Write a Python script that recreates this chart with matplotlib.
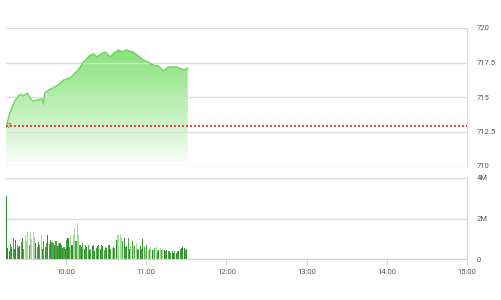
import matplotlib.pyplot as plt
import numpy as np
from matplotlib.patches import Polygon

plt.rcParams['font.family'] = ['Roboto', 'DejaVu Sans']

# gia chi so (phien sang)
gio_gia = ["09:15", "09:18", "09:22", "09:25", "09:26", "09:28", "09:31", "09:33",
           "09:35", "09:38", "09:42", "09:43", "09:44", "09:47", "09:50", "09:54",
           "09:58", "10:03", "10:06", "10:09", "10:13", "10:16", "10:18", "10:21",
           "10:23", "10:26", "10:29", "10:31", "10:33", "10:36", "10:39", "10:42",
           "10:45", "10:50", "10:55", "10:58", "11:01", "11:05", "11:09", "11:13",
           "11:16", "11:19", "11:23", "11:28", "11:31"]
gia = [712.8, 713.9, 714.78, 715.14, 715.2, 715.07, 715.29, 714.93,
       714.71, 714.78, 714.86, 714.49, 715.29, 715.51, 715.65, 715.87,
       716.23, 716.38, 716.67, 716.96, 717.54, 717.83, 718.04, 718.12,
       717.90, 718.12, 718.26, 718.12, 717.90, 718.19, 718.41, 718.26,
       718.41, 718.26, 717.90, 717.68, 717.54, 717.32, 717.25, 716.88,
       717.17, 717.17, 717.17, 716.96, 717.10]
tham_chieu = 712.87

# khoi luong theo phut tu 09:15 (trieu)
kl = [3.1, 0.55, 0.4, 0.75, 0.6, 1.05, 0.5, 0.95, 0.7, 0.6,
      0.65, 0.85, 1.05, 0.5, 1.2, 0.9, 1.35, 0.7, 1.35, 1.0,
      1.35, 1.1, 0.8, 0.6, 0.85, 0.7, 1.2, 0.5, 0.9, 0.6,
      0.8, 1.2, 0.75, 0.95, 0.85, 0.8, 0.7, 0.9, 0.65, 0.75,
      0.8, 0.7, 0.55, 0.6, 0.5, 0.95, 1.05, 0.6, 1.2, 0.7,
      1.2, 1.55, 0.9, 1.8, 1.2, 0.71, 0.6, 0.79, 0.5, 0.71,
      0.6, 0.71, 0.45, 0.5, 0.62, 0.7, 0.4, 0.54, 0.65, 0.71,
      0.5, 0.71, 0.62, 0.46, 0.6, 0.54, 0.7, 0.71, 0.5, 0.54,
      0.6, 0.54, 0.96, 1.2, 1.2, 1.2, 1.05, 0.9, 1.04, 0.6,
      0.62, 1.04, 0.5, 0.62, 0.87, 0.7, 0.62, 0.8, 0.5, 0.46,
      0.62, 0.5, 1.0, 0.6, 0.54, 0.7, 0.46, 0.5, 0.6, 0.46,
      0.46, 0.55, 0.62, 0.4, 0.46, 0.55, 0.46, 0.5, 0.46, 0.38,
      0.46, 0.4, 0.38, 0.3, 0.38, 0.3, 0.38, 0.3, 0.4, 0.38,
      0.5, 0.55, 0.6, 0.54, 0.46, 0.5]
mau_kl = ("dddmdmddmd" "dmdmlllmll" "lldmdmldmd" "mdmdmmdmdm"
          "dmdmdmdmld" "llmllmdmdm" "dmdmdmdmdm" "dmdmmdmdml"
          "dmdllllmdm" "dmdlmlmldm" "dmdmlmlmld" "lmlmdlmldm"
          "dmdmddmdmd" "mdddmd")
bang_mau = {'d': '#2f8f2f', 'm': '#4fa846', 'l': '#a9d89c'}

nhan_gio = ["10:00", "11:00", "12:00", "13:00", "14:00", "15:00"]


def sang_gio(s):
    h, m = s.split(':')
    return int(h) + int(m) / 60


x_gia = np.array([sang_gio(s) for s in gio_gia])
x_kl = 9.25 + np.arange(len(kl)) / 60
x_tick = [sang_gio(s) for s in nhan_gio]

fig = plt.figure(figsize=(5.01, 3.0), dpi=100)
ax1 = fig.add_axes([6/501, 1-166/300, 461/501, 138/300])
ax2 = fig.add_axes([6/501, 1-259/300, 461/501, 81/300])

luoi = '#dcdcdc'
chu = '#555555'
vien = '#cdd8e0'

# ---- gia
ax1.set_xlim(9.25, 15.0)
ax1.set_ylim(710, 720)

# gradient to duoi duong gia
ymax = max(gia)
grad = np.zeros((200, 2, 4))
t = np.linspace(1, 0, 200)[:, None] ** 0.9
grad[..., 0] = 1 - (1 - 0.53) * t
grad[..., 1] = 1 - (1 - 0.89) * t
grad[..., 2] = 1 - (1 - 0.48) * t
grad[..., 3] = 1
im = ax1.imshow(grad, extent=[x_gia[0], x_gia[-1], 710, ymax], aspect='auto',
                origin='upper', zorder=1)
poly = Polygon(np.vstack([np.column_stack([x_gia, gia]),
                          [[x_gia[-1], 710], [x_gia[0], 710]]]),
               closed=True, facecolor='none', edgecolor='none')
ax1.add_patch(poly)
im.set_clip_path(poly)
ax1.plot(x_gia, gia, color='#6fd460', lw=1, zorder=3)

ax1.axhline(tham_chieu, color='#e0282a', ls=(0, (1.2, 1.2)), lw=1.2, zorder=4)
ax1.text(9.253, tham_chieu, '7', color='#e0282a', fontsize=5.5, ha='left', va='center',
         zorder=5)

ax1.set_yticks([710, 712.5, 715, 717.5, 720])
ax1.set_yticklabels(['710', '712.5', '715', '717.5', '720'])
ax1.yaxis.tick_right()
ax1.tick_params(axis='y', length=0, pad=7, labelsize=5.5, labelcolor=chu)
ax1.set_xticks([])
ax1.grid(axis='y', color=luoi, lw=1)
for k in ['left', 'top', 'bottom']:
    ax1.spines[k].set_visible(False)
ax1.spines['right'].set_color(luoi)

# ---- khoi luong
ax2.bar(x_kl, kl, width=0.8/60, align='edge', antialiased=False,
        color=[bang_mau[c] for c in mau_kl], zorder=2)
ax2.set_xlim(9.25, 15.0)
ax2.set_ylim(0, 4)
ax2.set_yticks([0, 2, 4])
ax2.set_yticklabels(['0', '2M', '4M'])
ax2.yaxis.tick_right()
ax2.tick_params(axis='y', length=0, pad=7, labelsize=5.5, labelcolor=chu)
ax2.set_xticks(x_tick)
ax2.set_xticklabels(nhan_gio)
ax2.tick_params(axis='x', length=4, width=0.8, color=vien, pad=3,
                labelsize=5.5, labelcolor=chu)
ax2.grid(axis='y', color=luoi, lw=1)
ax2.spines['left'].set_visible(False)
ax2.spines['top'].set_visible(False)
ax2.spines['right'].set_color(vien)
ax2.spines['bottom'].set_color(vien)

plt.savefig('out.png', dpi=100)
